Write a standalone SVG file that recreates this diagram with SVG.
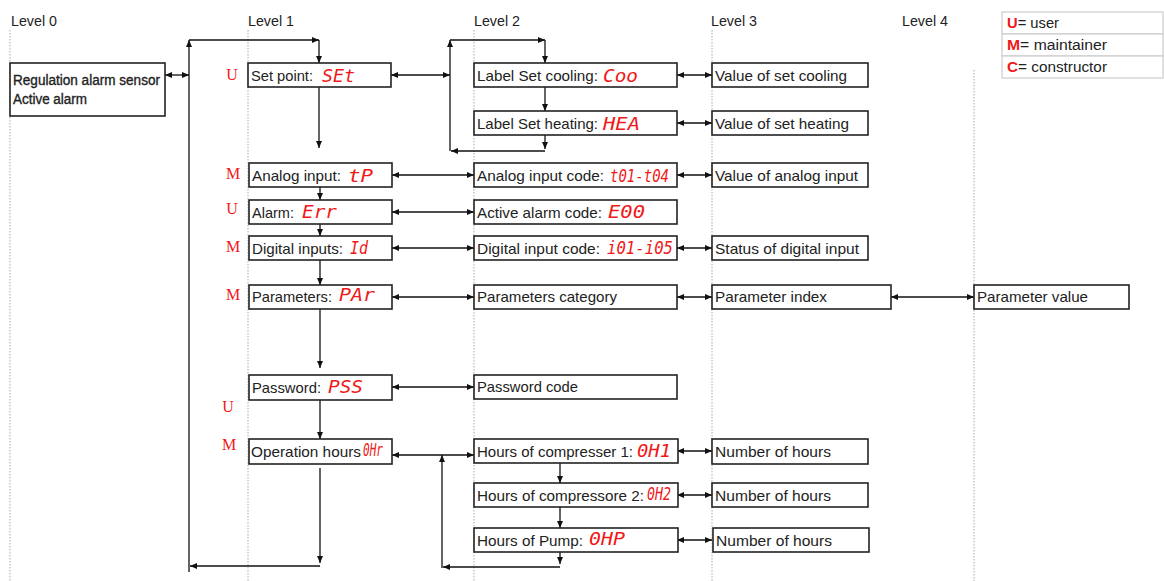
<svg xmlns="http://www.w3.org/2000/svg" width="1164" height="581" viewBox="0 0 1164 581">
<defs>
<marker id="a" markerUnits="userSpaceOnUse" markerWidth="7" markerHeight="6" refX="7" refY="3" orient="auto-start-reverse"><path d="M0,0 L7,3 L0,6 z" fill="#111"/></marker>
<style>
.t{font-family:"Liberation Sans",Arial,sans-serif;font-size:15px;fill:#222}
.l0{font-size:14px;stroke:#222;stroke-width:0.35}
.lg{font-size:14px}
.box{fill:#fff;stroke:#222;stroke-width:1.6}
.code{font-family:"DejaVu Sans Mono",monospace;font-style:italic;font-size:17px;fill:#f01818}
.role{font-family:"Liberation Serif","Times New Roman",serif;font-size:16px;fill:#f01818;text-anchor:middle}
.grid{stroke:#aaa;stroke-width:1;stroke-dasharray:1.5 1.5;fill:none}
.c line{stroke:#111;stroke-width:1.3}
.s{marker-end:url(#a)}
.d{marker-start:url(#a);marker-end:url(#a)}
.leg{fill:#fff;stroke:#ccc;stroke-width:1.2}
.red{fill:#f01818;font-weight:bold}
</style>
</defs>
<rect width="1164" height="581" fill="#fff"/>

<g id="levels">
<line class="grid" x1="10" y1="30" x2="10" y2="581"/>
<line class="grid" x1="248" y1="30" x2="248" y2="581"/>
<line class="grid" x1="474" y1="30" x2="474" y2="581"/>
<line class="grid" x1="712" y1="30" x2="712" y2="581"/>
<line class="grid" x1="974" y1="70" x2="974" y2="581"/>
<text class="t" x="11" y="26" textLength="46" lengthAdjust="spacingAndGlyphs">Level 0</text>
<text class="t" x="248" y="26" textLength="46" lengthAdjust="spacingAndGlyphs">Level 1</text>
<text class="t" x="474" y="26" textLength="46" lengthAdjust="spacingAndGlyphs">Level 2</text>
<text class="t" x="711" y="26" textLength="46" lengthAdjust="spacingAndGlyphs">Level 3</text>
<text class="t" x="902" y="26" textLength="46" lengthAdjust="spacingAndGlyphs">Level 4</text>
</g>

<g id="legend">
<rect class="leg" x="1002" y="12" width="161" height="22"/>
<rect class="leg" x="1002" y="34" width="161" height="22"/>
<rect class="leg" x="1002" y="56" width="161" height="22"/>
<text class="t lg" x="1007" y="28" textLength="52" lengthAdjust="spacingAndGlyphs"><tspan class="red">U</tspan>= user</text>
<text class="t lg" x="1007" y="50" textLength="100" lengthAdjust="spacingAndGlyphs"><tspan class="red">M</tspan>= maintainer</text>
<text class="t lg" x="1007" y="72" textLength="100" lengthAdjust="spacingAndGlyphs"><tspan class="red">C</tspan>= constructor</text>
</g>

<g id="connectors" class="c">
<line class="d" x1="165" y1="75" x2="189" y2="75"/>
<line class="s" x1="189" y1="572" x2="189" y2="40"/>
<line class="s" x1="189" y1="40" x2="319" y2="40"/>
<line class="s" x1="319" y1="40" x2="319" y2="63"/>
<line class="s" x1="319" y1="87" x2="319" y2="148"/>
<line class="d" x1="391" y1="75" x2="450" y2="75"/>
<line class="s" x1="450" y1="151" x2="450" y2="40"/>
<line class="s" x1="450" y1="40" x2="545" y2="40"/>
<line class="s" x1="545" y1="40" x2="545" y2="63"/>
<line class="s" x1="545" y1="87" x2="545" y2="111"/>
<line class="s" x1="545" y1="135" x2="545" y2="149"/>
<line class="s" x1="545" y1="151" x2="451" y2="151"/>
<line class="d" x1="677" y1="75" x2="712" y2="75"/>
<line class="d" x1="677" y1="123" x2="712" y2="123"/>
<line class="d" x1="392" y1="175" x2="474" y2="175"/>
<line class="d" x1="677" y1="175" x2="712" y2="175"/>
<line class="s" x1="320" y1="187" x2="320" y2="200"/>
<line class="d" x1="392" y1="212" x2="474" y2="212"/>
<line class="s" x1="320" y1="224" x2="320" y2="236"/>
<line class="d" x1="392" y1="248" x2="474" y2="248"/>
<line class="d" x1="677" y1="248" x2="712" y2="248"/>
<line class="s" x1="320" y1="260" x2="320" y2="285"/>
<line class="d" x1="392" y1="297" x2="474" y2="297"/>
<line class="d" x1="677" y1="297" x2="712" y2="297"/>
<line class="d" x1="891" y1="297" x2="974" y2="297"/>
<line class="s" x1="320" y1="309" x2="320" y2="368"/>
<line class="d" x1="392" y1="387" x2="474" y2="387"/>
<line class="s" x1="320" y1="400" x2="320" y2="439"/>
<line class="d" x1="392" y1="455" x2="474" y2="455"/>
<line class="s" x1="320" y1="468" x2="320" y2="563"/>
<line class="s" x1="320" y1="566" x2="190" y2="566"/>
<line class="s" x1="442" y1="568" x2="442" y2="455"/>
<line class="s" x1="560" y1="463" x2="560" y2="483"/>
<line class="s" x1="560" y1="507" x2="560" y2="528"/>
<line class="s" x1="560" y1="552" x2="560" y2="564"/>
<line class="s" x1="560" y1="567" x2="443" y2="567"/>
<line class="d" x1="677" y1="451" x2="712" y2="451"/>
<line class="d" x1="677" y1="495" x2="712" y2="495"/>
<line class="d" x1="677" y1="540" x2="712" y2="540"/>
</g>

<g id="level0">
<rect class="box" x="10" y="63" width="155" height="53"/>
<text class="t l0" x="13" y="85" textLength="147" lengthAdjust="spacingAndGlyphs">Regulation alarm sensor</text>
<text class="t l0" x="13" y="104" textLength="74" lengthAdjust="spacingAndGlyphs">Active alarm</text>
</g>

<g id="setpoint">
<text class="role" x="232" y="80">U</text>
<rect class="box" x="248" y="63" width="143" height="24"/>
<text class="t" x="251" y="81" textLength="62" lengthAdjust="spacingAndGlyphs">Set point:</text>
<text class="code" x="322" y="82" textLength="33" lengthAdjust="spacingAndGlyphs">SEt</text>
</g>
<g id="setcooling">
<rect class="box" x="474" y="63" width="203" height="24"/>
<text class="t" x="477" y="81" textLength="121" lengthAdjust="spacingAndGlyphs">Label Set cooling:</text>
<text class="code" x="603" y="82" textLength="35" lengthAdjust="spacingAndGlyphs">Coo</text>
</g>
<g id="setheating">
<rect class="box" x="474" y="111" width="203" height="24"/>
<text class="t" x="477" y="129" textLength="121" lengthAdjust="spacingAndGlyphs">Label Set heating:</text>
<text class="code" x="603" y="130" textLength="37" lengthAdjust="spacingAndGlyphs">HEA</text>
</g>
<g id="valcooling">
<rect class="box" x="712" y="63" width="156" height="24"/>
<text class="t" x="715" y="81" textLength="132" lengthAdjust="spacingAndGlyphs">Value of set cooling</text>
</g>
<g id="valheating">
<rect class="box" x="712" y="111" width="156" height="24"/>
<text class="t" x="715" y="129" textLength="134" lengthAdjust="spacingAndGlyphs">Value of set heating</text>
</g>

<g id="analog">
<text class="role" x="233" y="179">M</text>
<rect class="box" x="249" y="163" width="143" height="24"/>
<text class="t" x="252" y="181" textLength="89" lengthAdjust="spacingAndGlyphs">Analog input:</text>
<text class="code" x="348" y="182" textLength="25" lengthAdjust="spacingAndGlyphs">tP</text>
</g>
<g id="analogcode">
<rect class="box" x="474" y="163" width="203" height="24"/>
<text class="t" x="477" y="181" textLength="127" lengthAdjust="spacingAndGlyphs">Analog input code:</text>
<text class="code" x="610" y="182" textLength="59" lengthAdjust="spacingAndGlyphs">t01-t04</text>
</g>
<g id="analogval">
<rect class="box" x="712" y="163" width="156" height="24"/>
<text class="t" x="715" y="181" textLength="143" lengthAdjust="spacingAndGlyphs">Value of analog input</text>
</g>

<g id="alarm">
<text class="role" x="232" y="214">U</text>
<rect class="box" x="249" y="200" width="143" height="24"/>
<text class="t" x="252" y="218" textLength="42" lengthAdjust="spacingAndGlyphs">Alarm:</text>
<text class="code" x="302" y="218" textLength="35" lengthAdjust="spacingAndGlyphs">Err</text>
</g>
<g id="alarmcode">
<rect class="box" x="474" y="200" width="203" height="24"/>
<text class="t" x="477" y="218" textLength="125" lengthAdjust="spacingAndGlyphs">Active alarm code:</text>
<text class="code" x="608" y="218" textLength="37" lengthAdjust="spacingAndGlyphs">E00</text>
</g>

<g id="digital">
<text class="role" x="233" y="252">M</text>
<rect class="box" x="249" y="236" width="143" height="24"/>
<text class="t" x="252" y="254" textLength="91" lengthAdjust="spacingAndGlyphs">Digital inputs:</text>
<text class="code" x="350" y="254" textLength="18" lengthAdjust="spacingAndGlyphs">Id</text>
</g>
<g id="digitalcode">
<rect class="box" x="474" y="236" width="203" height="24"/>
<text class="t" x="477" y="254" textLength="123" lengthAdjust="spacingAndGlyphs">Digital input code:</text>
<text class="code" x="607" y="254" textLength="66" lengthAdjust="spacingAndGlyphs">i01-i05</text>
</g>
<g id="digitalstatus">
<rect class="box" x="712" y="236" width="156" height="24"/>
<text class="t" x="715" y="254" textLength="144" lengthAdjust="spacingAndGlyphs">Status of digital input</text>
</g>

<g id="parameters">
<text class="role" x="233" y="300">M</text>
<rect class="box" x="249" y="285" width="143" height="24"/>
<text class="t" x="252" y="302" textLength="80" lengthAdjust="spacingAndGlyphs">Parameters:</text>
<text class="code" x="339" y="301" textLength="36" lengthAdjust="spacingAndGlyphs">PAr</text>
</g>
<g id="paramcat">
<rect class="box" x="474" y="285" width="203" height="24"/>
<text class="t" x="477" y="302" textLength="140" lengthAdjust="spacingAndGlyphs">Parameters category</text>
</g>
<g id="paramindex">
<rect class="box" x="712" y="285" width="179" height="24"/>
<text class="t" x="715" y="302" textLength="112" lengthAdjust="spacingAndGlyphs">Parameter index</text>
</g>
<g id="paramvalue">
<rect class="box" x="974" y="285" width="155" height="24"/>
<text class="t" x="977" y="302" textLength="111" lengthAdjust="spacingAndGlyphs">Parameter value</text>
</g>

<g id="password">
<rect class="box" x="249" y="375" width="143" height="25"/>
<text class="t" x="252" y="393" textLength="69" lengthAdjust="spacingAndGlyphs">Password:</text>
<text class="code" x="328" y="393" textLength="35" lengthAdjust="spacingAndGlyphs">PSS</text>
<text class="role" x="228" y="412">U</text>
</g>
<g id="passwordcode">
<rect class="box" x="474" y="375" width="203" height="24"/>
<text class="t" x="477" y="392" textLength="101" lengthAdjust="spacingAndGlyphs">Password code</text>
</g>

<g id="operation">
<text class="role" x="229" y="450">M</text>
<rect class="box" x="249" y="439" width="143" height="25"/>
<text class="t" x="251" y="457" textLength="110" lengthAdjust="spacingAndGlyphs">Operation hours</text>
<text class="code" x="363" y="456" textLength="20" lengthAdjust="spacingAndGlyphs">0Hr</text>
</g>
<g id="comp1">
<rect class="box" x="474" y="439" width="204" height="24"/>
<text class="t" x="477" y="457" textLength="156" lengthAdjust="spacingAndGlyphs">Hours of compresser 1:</text>
<text class="code" x="637" y="457" textLength="34" lengthAdjust="spacingAndGlyphs">0H1</text>
</g>
<g id="comp2">
<rect class="box" x="474" y="483" width="204" height="24"/>
<text class="t" x="477" y="501" textLength="167" lengthAdjust="spacingAndGlyphs">Hours of compressore 2:</text>
<text class="code" x="647" y="500" textLength="24" lengthAdjust="spacingAndGlyphs">0H2</text>
</g>
<g id="pump">
<rect class="box" x="474" y="528" width="204" height="24"/>
<text class="t" x="477" y="546" textLength="106" lengthAdjust="spacingAndGlyphs">Hours of Pump:</text>
<text class="code" x="589" y="545" textLength="36" lengthAdjust="spacingAndGlyphs">0HP</text>
</g>
<g id="hours1">
<rect class="box" x="712" y="439" width="156" height="25"/>
<text class="t" x="715" y="457" textLength="116" lengthAdjust="spacingAndGlyphs">Number of hours</text>
</g>
<g id="hours2">
<rect class="box" x="712" y="483" width="156" height="24"/>
<text class="t" x="715" y="501" textLength="116" lengthAdjust="spacingAndGlyphs">Number of hours</text>
</g>
<g id="hours3">
<rect class="box" x="713" y="528" width="156" height="24"/>
<text class="t" x="716" y="546" textLength="116" lengthAdjust="spacingAndGlyphs">Number of hours</text>
</g>
</svg>
